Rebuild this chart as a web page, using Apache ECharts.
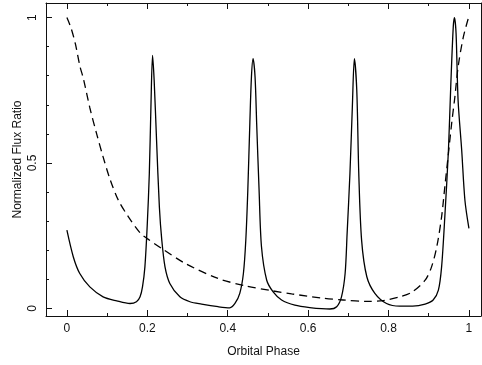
<!DOCTYPE html>
<html>
<head>
<meta charset="utf-8">
<script src="https://cdn.jsdelivr.net/npm/echarts@6/dist/echarts.min.js"></script>
<style>
html,body{margin:0;padding:0;background:#fff;}
#chart{width:482px;height:365px;}
</style>
</head>
<body>
<div id="chart"></div>
<script>
// ---- data ----
var solidPhase = [0, 0.016, 0.032, 0.057, 0.090, 0.124, 0.157, 0.173, 0.182, 0.188, 0.194, 0.200, 0.205, 0.209, 0.213, 0.217, 0.223, 0.230, 0.236, 0.244, 0.256, 0.281, 0.306, 0.335, 0.376, 0.405,
  0.418, 0.430, 0.439, 0.445, 0.450, 0.455, 0.459, 0.463, 0.468, 0.472, 0.478, 0.484, 0.497, 0.513, 0.534, 0.567, 0.604, 0.654,
  0.671, 0.683, 0.692, 0.697, 0.704, 0.710, 0.715, 0.721, 0.726, 0.733, 0.746, 0.766, 0.795, 0.828, 0.860,
  0.891, 0.911, 0.924, 0.932, 0.940, 0.949, 0.955, 0.961, 0.964, 0.968, 0.973, 0.982, 0.990, 1.0];
var solidFlux = [0.269, 0.177, 0.120, 0.074, 0.040, 0.026, 0.017, 0.023, 0.040, 0.074, 0.143, 0.292, 0.464, 0.693, 0.870, 0.785, 0.578, 0.349, 0.235, 0.143, 0.086, 0.040, 0.023, 0.015, 0.006, 0.002,
  0.017, 0.052, 0.120, 0.235, 0.407, 0.636, 0.796, 0.859, 0.796, 0.636, 0.407, 0.212, 0.097, 0.057, 0.029, 0.011, 0.003, -0.002,
  0.006, 0.040, 0.120, 0.258, 0.464, 0.693, 0.859, 0.750, 0.464, 0.235, 0.109, 0.052, 0.017, 0.008, 0.008,
  0.015, 0.029, 0.063, 0.143, 0.315, 0.544, 0.773, 0.968, 1.0, 0.945, 0.716, 0.544, 0.372, 0.275];

var dashedPhase = [0, 0.010, 0.021, 0.032, 0.041, 0.057, 0.074, 0.090, 0.107, 0.128, 0.153, 0.182, 0.200, 0.236, 0.294, 0.376, 0.443, 0.509, 0.559, 0.638, 0.687, 0.746, 0.787, 0.828, 0.857, 0.891, 0.907, 0.920, 0.932, 0.940, 0.949, 0.957, 0.965, 0.973, 0.986, 0.998];
var dashedFlux = [1.0, 0.965, 0.910, 0.835, 0.790, 0.690, 0.600, 0.521, 0.445, 0.372, 0.315, 0.260, 0.240, 0.206, 0.155, 0.103, 0.078, 0.061, 0.050, 0.035, 0.029, 0.024, 0.027, 0.040, 0.055, 0.097, 0.143, 0.212, 0.315, 0.418, 0.533, 0.636, 0.727, 0.830, 0.933, 0.995];

var xMajorTicks = [0, 0.2, 0.4, 0.6, 0.8, 1];
var xMinorTicks = [0.1, 0.3, 0.5, 0.7, 0.9];
var yMajorTicks = [0, 0.5, 1];
var yMinorTicks = [0.1, 0.2, 0.3, 0.4, 0.6, 0.7, 0.8, 0.9];

var xTitle = 'Orbital Phase';
var yTitle = 'Normalized Flux Ratio';

// ---- chart ----
var XMIN = -0.052, XMAX = 1.03, YMIN = -0.026, YMAX = 1.05;
var FONT = 'Liberation Sans, Arial, sans-serif';
var INK = '#111';
var MAJ = 6, MIN = 3;

function pairs(xs, ys) { return xs.map(function (x, i) { return [x, ys[i]]; }); }

function xAx(pos, ticks, len, showLine, labels, name) {
  return {
    type: 'value', position: pos, min: XMIN, max: XMAX,
    axisLine: { show: showLine, onZero: false, lineStyle: { color: INK, width: 1 } },
    axisTick: { show: true, inside: true, length: len, customValues: ticks, lineStyle: { color: INK, width: 1 } },
    axisLabel: labels ? { show: true, customValues: ticks, margin: 7, color: INK, fontSize: 12, fontFamily: FONT } : { show: false },
    splitLine: { show: false },
    name: name || '', nameLocation: 'middle', nameGap: 30, nameMoveOverlap: false,
    nameTextStyle: { color: INK, fontSize: 12, fontFamily: FONT }
  };
}
function yAx(pos, ticks, len, showLine, labels, name) {
  return {
    type: 'value', position: pos, min: YMIN, max: YMAX,
    axisLine: { show: showLine, onZero: false, lineStyle: { color: INK, width: 1 } },
    axisTick: { show: ticks.length > 0, inside: true, length: len, customValues: ticks, lineStyle: { color: INK, width: 1 } },
    axisLabel: labels ? { show: true, customValues: ticks, rotate: 90, margin: 7, color: INK, fontSize: 12, fontFamily: FONT } : { show: false },
    splitLine: { show: false },
    name: name || '', nameLocation: 'middle', nameGap: 22, nameRotate: 90, nameMoveOverlap: false,
    nameTextStyle: { color: INK, fontSize: 12, fontFamily: FONT }
  };
}

var chart = echarts.init(document.getElementById('chart'), null, { renderer: 'canvas' });
chart.setOption({
  animation: false,
  backgroundColor: '#fff',
  grid: { left: 46, right: 1, top: 3, bottom: 49, containLabel: false, outerBoundsMode: 'none' },
  xAxis: [
    xAx('bottom', xMajorTicks, MAJ, true, true, xTitle),
    xAx('bottom', xMinorTicks, MIN, false, false),
    xAx('top', xMajorTicks, MAJ, true, false),
    xAx('top', xMinorTicks, MIN, false, false)
  ],
  yAxis: [
    yAx('left', yMajorTicks, MAJ, true, true, yTitle),
    yAx('left', yMinorTicks, MIN, false, false),
    yAx('right', [], 0, true, false)
  ],
  series: [
    {
      type: 'line', xAxisIndex: 0, yAxisIndex: 0, data: pairs(solidPhase, solidFlux),
      showSymbol: false, smooth: 0.3, lineStyle: { color: '#000', width: 1.3 }
    },
    {
      type: 'line', xAxisIndex: 0, yAxisIndex: 0, data: pairs(dashedPhase, dashedFlux),
      showSymbol: false, smooth: 0.3, lineStyle: { color: '#000', width: 1.3, type: [8, 5] }
    }
  ]
});
</script>
</body>
</html>
